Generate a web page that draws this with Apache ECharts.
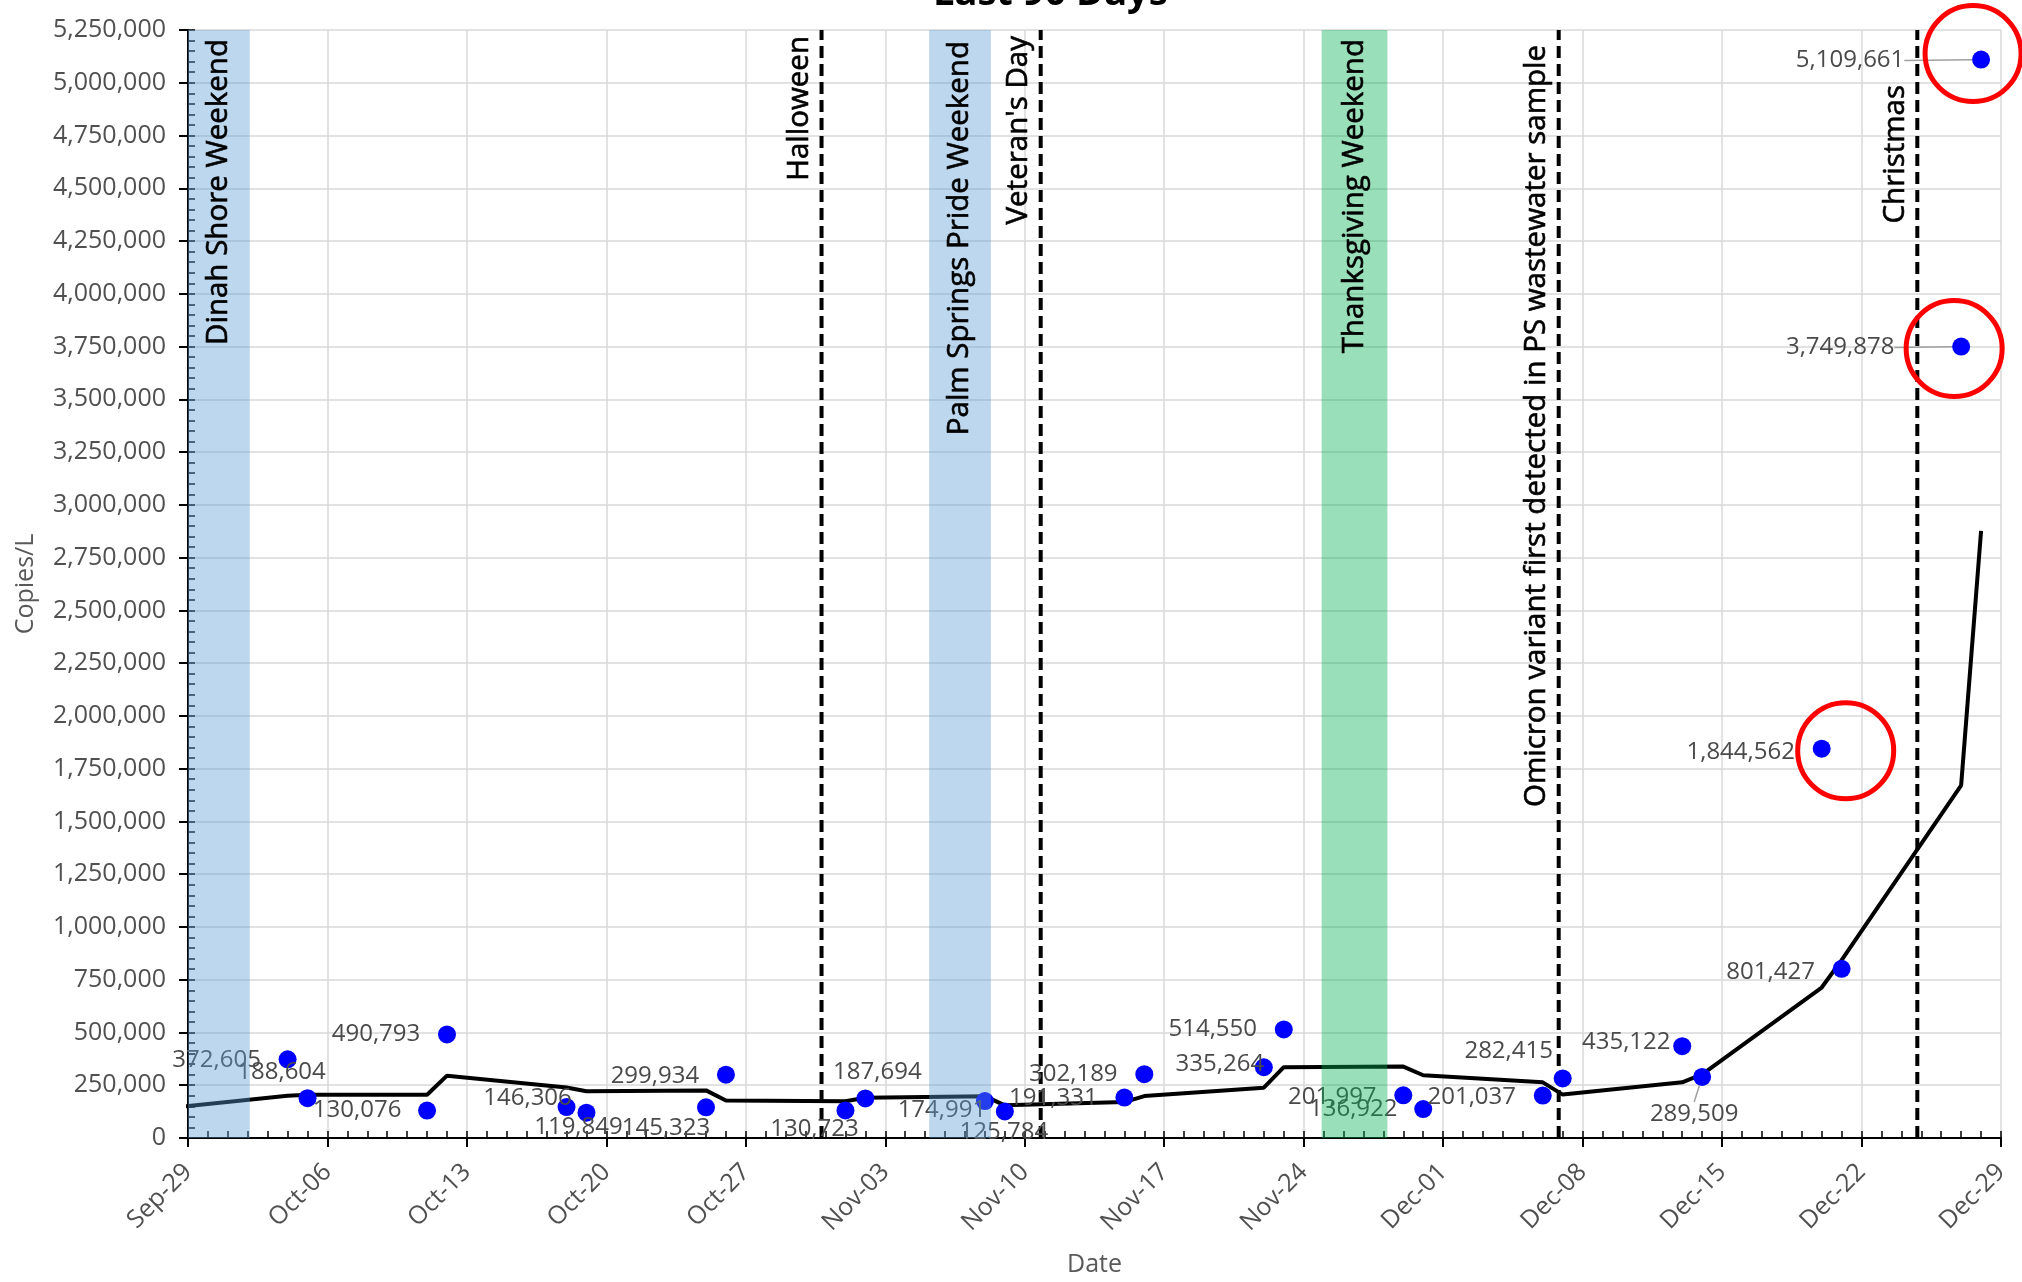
<!DOCTYPE html>
<html><head><meta charset="utf-8">
<script src="https://cdn.jsdelivr.net/npm/echarts@6/dist/echarts.min.js"></script>
<style>html,body{margin:0;padding:0;background:#fff}#c{width:2022px;height:1282px}</style>
</head><body><div id="c"></div>
<script>
// ---------------- data ----------------
const tickLabels = ['Sep-29','Oct-06','Oct-13','Oct-20','Oct-27','Nov-03','Nov-10','Nov-17','Nov-24','Dec-01','Dec-08','Dec-15','Dec-22','Dec-29'];
const sampleDates = ['Oct-04','Oct-05','Oct-11','Oct-12','Oct-18','Oct-19','Oct-25','Oct-26','Nov-01','Nov-02','Nov-08','Nov-09','Nov-15','Nov-16','Nov-22','Nov-23','Nov-29','Nov-30','Dec-06','Dec-07','Dec-13','Dec-14','Dec-20','Dec-21','Dec-27','Dec-28'];
const sampleValues = [372605,188604,130076,490793,146306,119849,145323,299934,130723,187694,174991,125784,191331,302189,335264,514550,201997,136922,201037,282415,435122,289509,1844562,801427,3749878,5109661];
const trendDates = ['Sep-28','Oct-04','Oct-05','Oct-11','Oct-12','Oct-18','Oct-19','Oct-25','Oct-26','Nov-01','Nov-02','Nov-08','Nov-09','Nov-15','Nov-16','Nov-22','Nov-23','Nov-29','Nov-30','Dec-06','Dec-07','Dec-13','Dec-14','Dec-20','Dec-21','Dec-27','Dec-28'];
const trendValues = [142000,200000,205000,205000,295500,239000,221800,225600,177900,174000,190900,198300,154800,170000,198600,238600,335800,338500,297200,263600,205600,263900,302000,712900,842700,1671300,2876400];
const bandNames = ['Dinah Shore Weekend','Palm Springs Pride Weekend','Thanksgiving Weekend'];
const bandStarts = ['Sep-29','Nov-05','Nov-25'];
const bandEnds = ['Oct-02','Nov-08','Nov-28'];
const eventNames = ['Halloween',"Veteran's Day",'Omicron variant first detected in PS wastewater sample','Christmas'];
const eventDates = ['Oct-31','Nov-11','Dec-07','Dec-25'];
const circledDates = ['Dec-20','Dec-27','Dec-28'];
const yMin = 0, yMax = 5250000, yStep = 250000;
const titleText = 'Last 90 Days';

// ---------------- styles ----------------
const FONT = '"Open Sans", "Noto Sans", sans-serif';
const labelOffsets = [[-71,1],[-26,-26],[-70,0],[-71,0],[-39,-9],[-8,14],[-40,21],[-71,1],[-31,19],[12,-26],[-43,9],[-1,21],[-71,1],[-71,0],[-44,-3],[-71,0],[-71,2],[-70,0],[-71,2],[-54,-27],[-56,-4],[-8,37],[-81,3],[-71,3],[-121,1],[-131,1]];
const leaderDates = ['Dec-14','Dec-27','Dec-28'];
const circleOffsets = [[24,2],[-7,2],[-8,-6]];
const bandColors = ['rgba(91,155,213,0.4)','rgba(91,155,213,0.4)','rgba(0,176,80,0.4)'];
const bandPx = [[0, 2], [4, 6], [-2, 4]];   // pixel nudges of band edges [left, right]
const bandTextAlong = [9, 11, 9];
const eventTextAlong = [6, 6, 15, 55];
const eventLineShift = -4;
const eventTextPerp = -22;

// ---------------- helpers ----------------
const MON = {Sep: 8, Oct: 9, Nov: 10, Dec: 11};
const BASE = Date.UTC(2021, 8, 29);
function day(s) { const [m, d] = s.split('-'); return (Date.UTC(2021, MON[m], +d) - BASE) / 86400000; }
function fmt(n) { return String(n).replace(/\B(?=(\d{3})+(?!\d))/g, ','); }

const chart = echarts.init(document.getElementById('c'));

const scatterData = sampleDates.map((d, i) => {
  const item = { value: [day(d), sampleValues[i]] };
  if (leaderDates.includes(d)) item.labelLine = { show: true, lineStyle: { color: '#a0a0a0', width: 1.5 } };
  return item;
});
const circleData = circledDates.map((d, i) => {
  const k = sampleDates.indexOf(d);
  return { value: [day(d), sampleValues[k]], symbolOffset: circleOffsets[i] };
});
const trendData = trendDates.map((d, i) => [day(d), trendValues[i]]);
const bandData = bandStarts.map((s, i) => [day(s), day(bandEnds[i])]);
const eventData = eventDates.map(d => [day(d), 0]);
const textItems = bandNames.map((n, i) => ({ x: (day(bandStarts[i]) + day(bandEnds[i])) / 2, text: n, perp: (bandPx[i][0] + bandPx[i][1]) / 2, along: bandTextAlong[i] }))
  .concat(eventNames.map((n, i) => ({ x: day(eventDates[i]), text: n, perp: eventLineShift + eventTextPerp, along: eventTextAlong[i] })));
const textData = textItems.map(t => [t.x, 0]);

const option = {
  animation: false,
  backgroundColor: '#fff',
  title: { text: titleText, left: 933, top: -25, padding: 0, textStyle: { fontFamily: FONT, fontSize: 38, fontWeight: 'bold', color: '#000' } },
  grid: { left: 188, right: 21, top: 30, bottom: 131 },
  xAxis: [{
    type: 'value', min: 0, max: 91, interval: 7,
    name: 'Date', nameLocation: 'middle', nameGap: 114,
    nameTextStyle: { fontFamily: FONT, fontSize: 25, color: '#595959' },
    axisLine: { lineStyle: { color: '#000', width: 2 } },
    axisTick: { length: 9, lineStyle: { color: '#000', width: 2 } },
    axisLabel: { rotate: 45, margin: 30, fontFamily: FONT, fontSize: 25, color: '#505050', formatter: v => tickLabels[Math.round(v / 7)] },
    splitLine: { show: true, lineStyle: { color: '#d9d9d9', width: 1.5 } }
  }, {
    type: 'value', min: 0, max: 91, interval: 1, position: 'bottom',
    axisLine: { show: false }, axisLabel: { show: false }, splitLine: { show: false },
    axisTick: { inside: true, length: 7, lineStyle: { color: '#000', width: 1.5 } }
  }],
  yAxis: [{
    type: 'value', min: yMin, max: yMax, interval: yStep,
    name: 'Copies/L', nameLocation: 'middle', nameGap: 150,
    nameTextStyle: { fontFamily: FONT, fontSize: 25, color: '#595959' },
    axisLine: { show: true, lineStyle: { color: '#000', width: 2 } },
    axisTick: { show: true, length: 9, lineStyle: { color: '#000', width: 2 } },
    axisLabel: { margin: 22, fontFamily: FONT, fontSize: 25, color: '#505050', formatter: v => fmt(v) },
    splitLine: { show: true, lineStyle: { color: '#d9d9d9', width: 1.5 } }
  }, {
    type: 'value', min: yMin, max: yMax, interval: yStep / 5, position: 'left',
    axisLine: { show: false }, axisLabel: { show: false }, splitLine: { show: false },
    axisTick: { show: true, inside: true, length: 7, lineStyle: { color: '#000', width: 1.5 } }
  }],
  series: [
    {
      type: 'custom', z: 3, silent: true, data: eventData,
      renderItem: (params, api) => {
        const x = api.coord([api.value(0), yMin])[0] + eventLineShift;
        const yb = api.coord([0, yMin])[1], yt = api.coord([0, yMax])[1];
        return { type: 'line', shape: { x1: x, y1: yb, x2: x, y2: yt }, style: { stroke: '#000', lineWidth: 4, lineDash: [12, 6] } };
      }
    },
    {
      type: 'line', z: 4, data: trendData, symbol: 'none', silent: true,
      lineStyle: { color: '#000', width: 4 }
    },
    {
      type: 'scatter', z: 5, data: scatterData, symbolSize: 18,
      itemStyle: { color: '#0000ff', opacity: 1 },
      label: { show: true, position: 'inside', fontFamily: FONT, fontSize: 24, color: '#4a4a4a', formatter: p => fmt(p.value[1]) },
      labelLayout: p => ({ dx: labelOffsets[p.dataIndex][0], dy: labelOffsets[p.dataIndex][1] })
    },
    {
      type: 'scatter', z: 7, silent: true, data: circleData, symbol: 'circle', symbolSize: 96,
      itemStyle: { color: 'rgba(0,0,0,0)', borderColor: '#ff0000', borderWidth: 5, opacity: 1 }
    },
    {
      type: 'custom', z: 10, silent: true, data: bandData,
      renderItem: (params, api) => {
        const nudge = bandPx[params.dataIndex];
        const p0 = api.coord([api.value(0), yMax]), p1 = api.coord([api.value(1), yMin]);
        const x0 = p0[0] + nudge[0], x1 = p1[0] + nudge[1];
        return { type: 'rect', shape: { x: x0, y: p0[1], width: x1 - x0, height: p1[1] - p0[1] }, style: { fill: bandColors[params.dataIndex] } };
      }
    },
    {
      type: 'custom', z: 12, silent: true, data: textData,
      renderItem: (params, api) => {
        const t = textItems[params.dataIndex];
        const x = api.coord([api.value(0), yMin])[0] + t.perp;
        const y = api.coord([0, yMax])[1] + t.along;
        return { type: 'text', x: x, y: y, rotation: Math.PI / 2,
          style: { text: t.text, fill: '#000', stroke: '#000', lineWidth: 0.6, fontFamily: FONT, fontSize: 29.5, align: 'right', verticalAlign: 'middle' } };
      }
    }
  ]
};
chart.setOption(option);
</script></body></html>
